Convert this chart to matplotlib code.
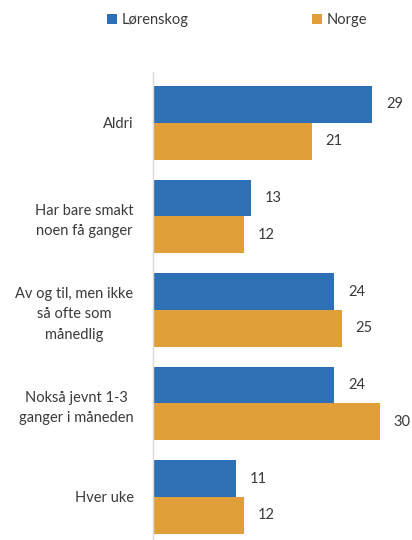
import matplotlib.pyplot as plt
import numpy as np

# =============================
# DATA
# =============================
kategorier = [
    "Aldri",
    "Har bare smakt\nnoen få ganger",
    "Av og til, men ikke\nså ofte som\nmånedlig",
    "Nokså jevnt 1-3\nganger i måneden",
    "Hver uke",
]
lorenskog = [29, 13, 24, 24, 11]
norge = [21, 12, 25, 30, 12]
serier = ["Lørenskog", "Norge"]

BLA = "#2E70B5"
ORANSJE = "#E09F38"
TEKST = "#3A3A3A"

plt.rcParams["font.family"] = ["Lato", "DejaVu Sans"]

fig = plt.figure(figsize=(4.12, 5.40), dpi=100)
W, H = 412, 540
ax = fig.add_axes([153 / W, 0, (395 - 153) / W, (540 - 72) / H])

y = np.arange(len(kategorier))
h = 0.395

b1 = ax.barh(y - h / 2, lorenskog, height=h, color=BLA, label=serier[0])
b2 = ax.barh(y + h / 2, norge, height=h, color=ORANSJE, label=serier[1])

for bars, vals in [(b1, lorenskog), (b2, norge)]:
    for bar, v in zip(bars, vals):
        ax.text(v + 1.8, bar.get_y() + bar.get_height() / 2, f"{v}",
                va="center", ha="left", fontsize=10.5, color=TEKST)

ax.set_xlim(0, 32)
ax.set_ylim(4.46, -0.545)
ax.set_yticks(y)
ax.set_yticklabels(kategorier, fontsize=10.5, color=TEKST,
                   multialignment="center", linespacing=1.55)
ax.tick_params(axis="y", length=0, pad=14)
ax.set_xticks([])

for s in ["top", "right", "bottom"]:
    ax.spines[s].set_visible(False)
ax.spines["left"].set_color("#D9D9D9")
ax.spines["left"].set_linewidth(1)

fig.legend(handles=[b1, b2], labels=serier, loc="upper center",
           bbox_to_anchor=(0.575, 1.0), ncol=2, frameon=False,
           fontsize=10.5, labelcolor=TEKST, handlelength=0.7, handleheight=0.7,
           handletextpad=0.3, columnspacing=8.5)

fig.savefig("out.png", dpi=100)
